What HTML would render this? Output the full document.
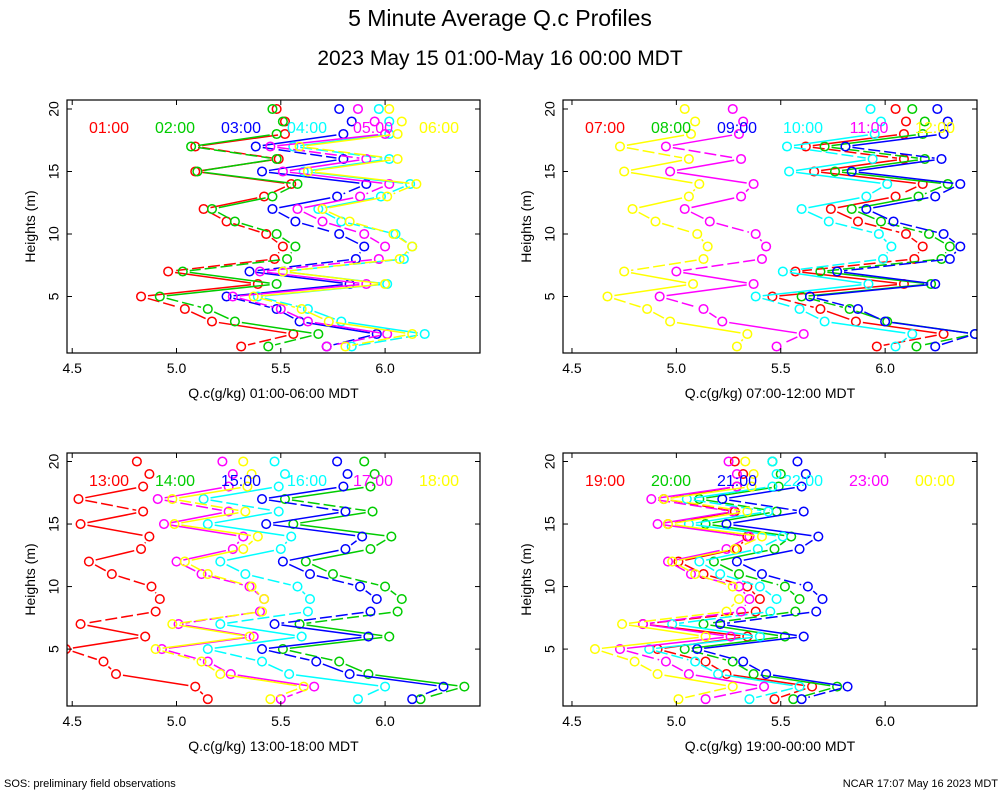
<!DOCTYPE html>
<html><head><meta charset="utf-8"><style>
body{margin:0;background:#fff;font-family:"Liberation Sans",sans-serif}
svg text{font-family:"Liberation Sans",sans-serif}
</style></head><body>
<svg id="c" width="1000" height="800" viewBox="0 0 1000 800">
<text x="500" y="26" font-size="23" text-anchor="middle">5 Minute Average Q.c Profiles</text>
<text x="500" y="65" font-size="21" text-anchor="middle">2023 May 15 01:00-May 16 00:00 MDT</text>
<text x="4" y="787" font-size="11">SOS: preliminary field observations</text>
<text x="998" y="787" font-size="11" text-anchor="end">NCAR 17:07 May 16 2023 MDT</text>
</svg>
<script>
const heights=[20,19,18,17,16,15,14,13,12,11,10,9,8,7,6,5,4,3,2,1];
const xTicks=[4.5,5.0,5.5,6.0];
const yTicks=[5,10,15,20];
const colors=["#ff0000","#00cc00","#0000ff","#00ffff","#ff00ff","#ffff00"];
const labels1=["01:00","02:00","03:00","04:00","05:00","06:00"];
const labels2=["07:00","08:00","09:00","10:00","11:00","12:00"];
const labels3=["13:00","14:00","15:00","16:00","17:00","18:00"];
const labels4=["19:00","20:00","21:00","22:00","23:00","00:00"];
const p1=[
[5.48,5.52,5.52,5.09,5.49,5.09,5.55,5.42,5.13,5.24,5.43,5.51,5.47,4.96,5.39,4.83,5.04,5.17,5.56,5.31],
[5.46,5.51,5.48,5.07,5.48,5.10,5.58,5.46,5.17,5.28,5.48,5.57,5.53,5.03,5.48,4.92,5.15,5.28,5.68,5.44],
[5.78,5.84,5.80,5.38,5.80,5.41,5.91,5.77,5.46,5.57,5.78,5.90,5.86,5.35,5.83,5.24,5.48,5.59,5.96,5.72],
[5.97,6.02,6.02,5.56,6.02,5.61,6.12,5.98,5.68,5.79,6.05,6.13,6.09,5.51,6.01,5.39,5.63,5.79,6.19,5.84],
[5.87,5.95,6.00,5.45,5.91,5.51,6.02,5.88,5.58,5.70,5.90,6.00,5.97,5.40,5.91,5.27,5.50,5.63,6.01,5.72],
[6.02,6.08,6.06,5.59,6.06,5.63,6.15,6.01,5.70,5.83,6.04,6.13,6.07,5.51,6.00,5.37,5.60,5.73,6.13,5.81]];
const p2=[
[6.05,6.10,6.09,5.62,6.09,5.66,6.18,6.05,5.74,5.87,6.10,6.18,6.14,5.57,6.09,5.46,5.69,5.86,6.28,5.96],
[6.13,6.19,6.18,5.71,6.19,5.76,6.30,6.16,5.84,5.98,6.21,6.31,6.27,5.69,6.22,5.60,5.83,6.01,6.43,6.15],
[6.25,6.30,6.28,5.81,6.27,5.84,6.36,6.24,5.91,6.04,6.28,6.36,6.31,5.77,6.24,5.64,5.87,6.00,6.43,6.24],
[5.93,5.98,5.95,5.53,5.94,5.54,6.01,5.91,5.60,5.73,5.97,6.03,5.99,5.51,5.92,5.38,5.59,5.71,6.13,6.05],
[5.27,5.32,5.30,4.95,5.31,4.97,5.37,5.31,5.04,5.16,5.38,5.43,5.41,5.00,5.37,4.92,5.13,5.22,5.61,5.48],
[5.04,5.09,5.07,4.73,5.06,4.75,5.11,5.06,4.79,4.90,5.10,5.15,5.13,4.75,5.08,4.67,4.86,4.97,5.34,5.29]];
const p3=[
[4.81,4.87,4.84,4.53,4.84,4.54,4.87,4.83,4.58,4.69,4.88,4.92,4.90,4.54,4.85,4.47,4.65,4.71,5.09,5.15],
[5.90,5.95,5.93,5.52,5.94,5.56,6.03,5.93,5.62,5.75,6.00,6.08,6.06,5.59,6.02,5.51,5.78,5.92,6.38,6.17],
[5.77,5.82,5.80,5.41,5.81,5.43,5.89,5.81,5.51,5.64,5.88,5.96,5.93,5.47,5.92,5.41,5.67,5.83,6.28,6.13],
[5.47,5.52,5.49,5.13,5.49,5.15,5.55,5.50,5.21,5.33,5.58,5.64,5.63,5.21,5.60,5.15,5.41,5.54,6.00,5.87],
[5.22,5.27,5.25,4.91,5.25,4.94,5.32,5.27,5.00,5.12,5.35,5.42,5.40,5.01,5.37,4.93,5.15,5.26,5.66,5.50],
[5.32,5.36,5.34,4.98,5.33,4.99,5.39,5.32,5.04,5.15,5.36,5.42,5.41,4.98,5.35,4.90,5.12,5.21,5.61,5.45]];
const p4=[
[5.28,5.32,5.29,4.94,5.28,4.96,5.34,5.29,5.01,5.13,5.34,5.40,5.38,4.84,5.34,4.91,5.14,5.24,5.65,5.47],
[5.46,5.50,5.49,5.11,5.48,5.14,5.55,5.47,5.18,5.30,5.52,5.59,5.57,5.13,5.52,5.04,5.27,5.37,5.77,5.56],
[5.58,5.62,5.60,5.22,5.61,5.24,5.68,5.59,5.29,5.41,5.63,5.70,5.67,5.21,5.61,5.10,5.32,5.43,5.82,5.60],
[5.46,5.48,5.46,5.05,5.44,5.06,5.51,5.39,5.11,5.21,5.40,5.48,5.45,4.98,5.40,4.87,5.09,5.20,5.59,5.35],
[5.25,5.29,5.29,4.88,5.27,4.91,5.35,5.24,4.96,5.07,5.30,5.35,5.31,4.84,5.26,4.73,4.95,5.06,5.42,5.14],
[5.33,5.37,5.36,4.94,5.34,4.96,5.41,5.28,4.98,5.09,5.27,5.30,5.24,4.74,5.14,4.61,4.80,4.91,5.27,5.01]];
const panels=[
 {x:67,y:100,w:413,h:253,xmin:4.475,xmax:6.455,ymin:0.48,ymax:20.72,data:p1,labels:labels1,xl:"Q.c(g/kg) 01:00-06:00 MDT"},
 {x:563,y:100,w:414,h:253,xmin:4.457,xmax:6.44,ymin:0.48,ymax:20.72,data:p2,labels:labels2,xl:"Q.c(g/kg) 07:00-12:00 MDT"},
 {x:67,y:453,w:413,h:253,xmin:4.475,xmax:6.455,ymin:0.45,ymax:20.68,data:p3,labels:labels3,xl:"Q.c(g/kg) 13:00-18:00 MDT"},
 {x:563,y:453,w:414,h:253,xmin:4.457,xmax:6.44,ymin:0.45,ymax:20.68,data:p4,labels:labels4,xl:"Q.c(g/kg) 19:00-00:00 MDT"}];
const svg=document.getElementById('c');
const NS="http://www.w3.org/2000/svg";
function mk(t,a,parent){const e=document.createElementNS(NS,t);for(const k in a)e.setAttribute(k,a[k]);(parent||svg).appendChild(e);return e;}
panels.forEach((p,pi)=>{
 const g=mk('g',{});
 
 
 const sx=v=>p.x+(v-p.xmin)/(p.xmax-p.xmin)*p.w;
 const sy=v=>p.y+p.h-(v-p.ymin)/(p.ymax-p.ymin)*p.h;
 const cid='clip'+pi;
 const cp=mk('clipPath',{id:cid},g);mk('rect',{x:p.x,y:p.y,width:p.w,height:p.h},cp);
 const plot=mk('g',{'clip-path':'url(#'+cid+')'},g);
 p.data.forEach((s,si)=>{
  const sg=mk('g',{},plot);
  
  
  for(let i=2;i<s.length-1;i++){
   const x1=sx(s[i]),y1=sy(heights[i]),x2=sx(s[i+1]),y2=sy(heights[i+1]);
   const dx=x2-x1,dy=y2-y1,L=Math.hypot(dx,dy),gap=7;
   if(L<=2*gap)continue;
   const ux=dx/L,uy=dy/L;
   const seg=mk('line',{x1:x1+ux*gap,y1:y1+uy*gap,x2:x2-ux*gap,y2:y2-uy*gap,stroke:colors[si],'stroke-width':1.5,'stroke-dasharray':(i%3===0?'12,4':'none')},sg);
   
   
  }
  s.forEach((v,i)=>{
   const c=mk('circle',{cx:sx(v),cy:sy(heights[i]),r:4.3,fill:'none',stroke:colors[si],'stroke-width':1.5},sg);
   
   
  });
 });
 p.labels.forEach((l,si)=>{
  const t=mk('text',{x:p.x+42+si*66,y:p.y+33,'font-size':16,'text-anchor':'middle',fill:colors[si]},g);
  t.textContent=l;
  
  
 });
 const fr=mk('rect',{x:p.x,y:p.y,width:p.w,height:p.h,fill:'none',stroke:'#000','stroke-width':1.2},g);
 
 
 xTicks.forEach(v=>{
  const X=sx(v);
  mk('line',{x1:X,x2:X,y1:p.y+p.h,y2:p.y+p.h-5,stroke:'#000'},g);
  mk('line',{x1:X,x2:X,y1:p.y,y2:p.y+5,stroke:'#000'},g);
  const t=mk('text',{x:X,y:p.y+p.h+20,'font-size':14,'text-anchor':'middle'},g);
  t.textContent=v.toFixed(1);
  
  
 });
 yTicks.forEach(v=>{
  const Y=sy(v);
  mk('line',{x1:p.x,x2:p.x+5,y1:Y,y2:Y,stroke:'#000'},g);
  mk('line',{x1:p.x+p.w,x2:p.x+p.w-5,y1:Y,y2:Y,stroke:'#000'},g);
  const t=mk('text',{x:p.x-12,y:Y,'font-size':14,'text-anchor':'middle',transform:'rotate(-90 '+(p.x-12)+' '+Y+')','dominant-baseline':'middle'},g);
  t.textContent=v;
  
  
 });
 const xl=mk('text',{x:p.x+p.w/2,y:p.y+p.h+45,'font-size':14,'text-anchor':'middle'},g);
 xl.textContent=p.xl;
 
 
 const yx=p.x-32, yy=p.y+p.h/2;
 const yl=mk('text',{x:yx,y:yy,'font-size':14,'text-anchor':'middle',transform:'rotate(-90 '+yx+' '+yy+')'},g);
 yl.textContent='Heights (m)';
 
 
});
</script>
</body></html>
